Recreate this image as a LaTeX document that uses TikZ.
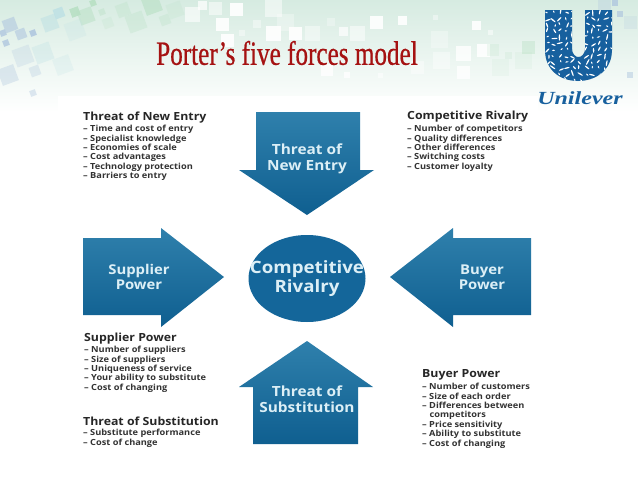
\documentclass[tikz,border=0pt]{standalone}
\usepackage{fontspec}
\setmainfont{Open Sans}
\newfontfamily\titlefont[FakeStretch=0.74, FakeBold=0.6]{Liberation Serif}
\newfontfamily\logofont[FakeStretch=1.3]{Liberation Serif}
\newfontfamily\blockfont[FakeStretch=1.1]{Open Sans}
\usetikzlibrary{shapes.geometric, positioning}
\definecolor{forcedark}{HTML}{0F5F90}
\definecolor{forcelight}{HTML}{2F80AC}
\definecolor{rivalblue}{HTML}{14669A}
\definecolor{logoblue}{HTML}{17609E}
\definecolor{titlered}{HTML}{A51212}
\definecolor{labelblue}{HTML}{DCEFF6}
\definecolor{bandgreen}{HTML}{D6EBE1}
\definecolor{sqblue}{HTML}{B0C7DF}
\definecolor{sqteal}{HTML}{BCE0E4}
\definecolor{sqgreen}{HTML}{B8E0C4}
\tikzset{
  forcearrow/.style={top color=forcelight, bottom color=forcedark, draw=none},
  forcelabel/.style={font=\blockfont\fontsize{14}{16}\selectfont\bfseries, text=labelblue, align=center},
  sidelabel/.style={font=\blockfont\fontsize{13.5}{15}\selectfont\bfseries, text=labelblue, align=center},
  blockhead/.style={font=\blockfont\fontsize{11.2}{12}\selectfont\bfseries, text=black!85, anchor=south west, inner sep=0pt},
  blocklist/.style={font=\blockfont\fontsize{8.4}{9.4}\selectfont\bfseries, text=black!80, anchor=north west, align=left, inner sep=0pt},
}
\begin{document}
\begin{tikzpicture}[x=1pt, y=-1pt]
  \useasboundingbox (0,0) rectangle (638,479);
  % Band
  \shade[top color=bandgreen, bottom color=white, middle color=bandgreen!50] (0,0) rectangle (638,112);
  \foreach \x/\y/\s/\c/\o in {10/25/13/sqblue/.6, 3/33/6/sqblue/.8, 21/34/10/sqblue/.6, 33/33/6/sqblue/.9,
      6/43/6/sqblue/.8, 23/56/18/sqblue/.25, 43/53/18/sqteal/.3, 8/75/17/sqblue/.35, 35/71/10/sqblue/.3,
      50/23/15/sqteal/.5, 59/13/10/sqteal/.8, 75/12/9/sqgreen/.9, 86/16/15/sqgreen/.5, 93/3/6/sqgreen/.9,
      123/10/13/sqgreen/.3, 102/12/6/sqgreen/.4, 75/30/18/sqteal/.2, 108/23/10/sqgreen/.2, 63/65/17/sqteal/.2,
      33/93/6/sqblue/.4, 136/22/18/sqgreen/.3, 152/5/17/sqgreen/.6, 165/20/10/sqgreen/.3, 175/10/15/sqgreen/.2}
    \fill[\c, opacity=\o, rotate around={20:(\x,\y)}] (\x-\s/2,\y-\s/2) rectangle (\x+\s/2,\y+\s/2);
  \foreach \x/\y/\s/\o in {192/14/15/.6, 202/5/9/.7, 215/8/13/.5, 236/9/13/.9, 222/24/13/.9, 273/8/17/.5,
      273/33/15/.9, 227/40/13/.9, 295/33/13/.9, 257/24/8/.4, 242/33/6/.4, 285/22/17/.3, 312/33/15/.4,
      376/22/13/.9, 402/20/9/.9, 435/17/5/.4, 476/25/9/.9, 357/33/15/.5, 343/31/9/.7, 439/39/17/.3,
      463/53/15/.8, 483/50/13/.9, 463/72/13/.8, 441/60/17/.4, 417/67/13/.4, 327/70/12/.8, 347/75/6/.8,
      380/75/5/.5, 490/32/5/.5, 331/22/8/.3}
    \fill[white, opacity=\o] (\x-\s/2,\y-\s/2) rectangle (\x+\s/2,\y+\s/2);
  \foreach \x/\y/\s/\c/\o in {528/47/13/sqgreen/.4, 493/50/12/sqgreen/.2, 508/55/7/sqgreen/.2, 500/67/17/sqgreen/.12,
      523/60/17/sqgreen/.12, 604/5/13/sqblue/.3, 615/3/6/sqblue/.8, 620/14/6/sqblue/.7, 630/75/6/sqblue/.5,
      630/22/13/sqblue/.2}
    \fill[\c, opacity=\o] (\x-\s/2,\y-\s/2) rectangle (\x+\s/2,\y+\s/2);
  \fill[white] (58,96) rectangle (538,479);
  \fill[white] (0,112) rectangle (638,479);
  % Title
  \node[font=\titlefont\fontsize{34}{36}\selectfont, text=titlered, inner sep=0pt] (title) at (287,53) {Porter’s five forces model};
  % Logo
  \begin{scope}
    \clip (545,10) -- (572,10) -- (572,48) .. controls (572,60) and (585,60) .. (585,48) -- (585,10) -- (612,10)
      -- (612,50) .. controls (612,70) and (596,81) .. (578,81) .. controls (560,81) and (545,70) .. (545,50) -- cycle;
    \fill[logoblue] (540,5) rectangle (615,85);
    \pgfmathsetseed{7}
    \foreach \x in {0,...,10} \foreach \y in {0,...,11} {
      \pgfmathsetmacro{\ang}{rnd*180}
      \pgfmathsetmacro{\len}{1.2+rnd*2.2}
      \pgfmathsetmacro{\px}{546+\x*6.5+rnd*3}
      \pgfmathsetmacro{\py}{11+\y*6.2+rnd*3}
      \fill[white, rotate around={\ang:(\px,\py)}] (\px,\py) ellipse (\len pt and 0.7pt);
    }
  \end{scope}
  \node[font=\logofont\itshape\bfseries\fontsize{18.5}{19}\selectfont, text=logoblue, inner sep=0pt] (logotext) at (580,98) {Unilever};
  % Arrows
  \path[forcearrow] (256,112) -- (360,112) -- (360,170) -- (374,170) -- (307,215) -- (239,170) -- (256,170) -- cycle;
  \path[forcearrow] (83,238) -- (161,238) -- (161,228) -- (224,277) -- (161,327) -- (161,315) -- (83,315) -- cycle;
  \path[forcearrow] (531,238) -- (453,238) -- (453,228) -- (390,277) -- (453,327) -- (453,315) -- (531,315) -- cycle;
  \path[forcearrow] (253,444) -- (358,444) -- (358,387) -- (373,387) -- (307,341) -- (239,387) -- (253,387) -- cycle;
  \node[ellipse, fill=rivalblue, inner sep=0pt, minimum width=117pt, minimum height=87pt] (rivalry) at (307,278.5) {};
  % Arrow labels
  \node[forcelabel] (entrylabel) at (307,158.5) {Threat of\\New Entry};
  \node[forcelabel] (subslabel) at (307,399) {Threat of\\Substitution};
  \node[sidelabel] (supplierlabel) at (139,277) {Supplier\\Power};
  \node[sidelabel] (buyerlabel) at (482,277) {Buyer\\Power};
  \node[forcelabel, font=\blockfont\fontsize{17}{18.5}\selectfont\bfseries] (rivalrylabel) at (rivalry) {Competitive\\Rivalry};
  % Text blocks
  \node[blockhead] (entryhead) at (83,123) {Threat of New Entry};
  \node[blocklist] (entrylist) at (83,125) {– Time and cost of entry\\– Specialist knowledge\\– Economies of scale\\– Cost advantages\\– Technology protection\\– Barriers to entry};
  \node[blockhead] (rivalhead) at (407,122) {Competitive Rivalry};
  \node[blocklist] (rivallist) at (407,125) {– Number of competitors\\– Quality differences\\– Other differences\\– Switching costs\\– Customer loyalty};
  \node[blockhead] (supplierhead) at (84,344) {Supplier Power};
  \node[blocklist] (supplierlist) at (84,346) {– Number of suppliers\\– Size of suppliers\\– Uniqueness of service\\– Your ability to substitute\\– Cost of changing};
  \node[blockhead] (subshead) at (83,426) {Threat of Substitution};
  \node[blocklist] (subslist) at (83,429) {– Substitute performance\\– Cost of change};
  \node[blockhead] (buyerhead) at (422,380) {Buyer Power};
  \node[blocklist] (buyerlist) at (422,383) {– Number of customers\\– Size of each order\\– Differences between\\\hspace{7.5pt}competitors\\– Price sensitivity\\– Ability to substitute\\– Cost of changing};
\end{tikzpicture}
\end{document}
